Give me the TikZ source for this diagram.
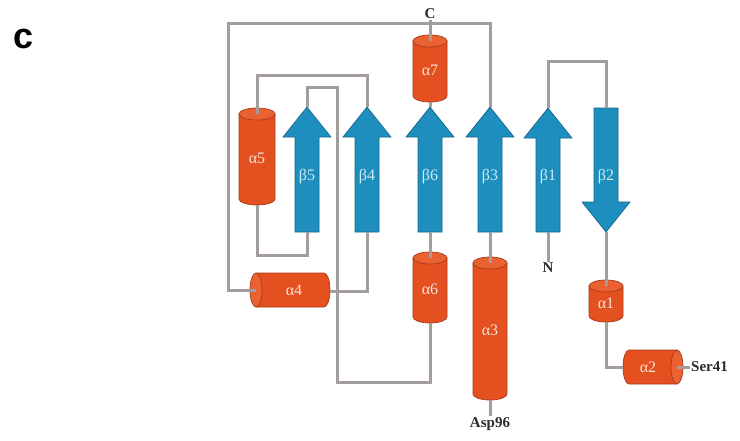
\documentclass[tikz,border=0pt]{standalone}
\usepackage{fontspec}
\setmainfont{Liberation Serif}
\newfontfamily\headfont{Liberation Sans}
\definecolor{orbody}{HTML}{E4501F}
\definecolor{ortop}{HTML}{EA6232}
\definecolor{oredge}{HTML}{A83A18}
\definecolor{blbody}{HTML}{1E8EBE}
\definecolor{bledge}{HTML}{17678A}
\definecolor{lngray}{HTML}{A39E9B}
\definecolor{txtor}{HTML}{FBE3D6}
\definecolor{txtbl}{HTML}{CDEBF5}
\definecolor{txtdk}{HTML}{2E2A28}
\tikzset{
  conn/.style={draw=lngray, line width=3pt},
  cylbody/.style={fill=orbody, draw=oredge, line width=0.7pt},
  cyltop/.style={fill=ortop, draw=oredge, line width=0.7pt},
  strand/.style={fill=blbody, draw=bledge, line width=0.7pt, line join=miter},
  alab/.style={text=txtor, font=\fontsize{16}{16}\selectfont, inner sep=0pt},
  blab/.style={text=txtbl, font=\fontsize{16}{16}\selectfont, inner sep=0pt},
  endlab/.style={text=txtdk, font=\fontsize{15}{15}\selectfont\bfseries, inner sep=1pt},
}
% vertical cylinder: name, cx, ytop(cap centre), ybot(bottom centre), half width, label
\newcommand\vcyl[6]{%
  \path[cylbody] (#2-#5,-#3) -- (#2-#5,-#4)
     arc[start angle=180,end angle=360,x radius=#5pt,y radius=6pt]
     -- (#2+#5,-#3) -- cycle;
  \path[cyltop] (#2,-#3) ellipse[x radius=#5pt,y radius=6pt];
  \coordinate (#1-t) at (#2,-#3);
  \coordinate (#1-b) at (#2,-#4-6);
  \node[alab] (#1) at (#2,{-(#3+#4)/2-2}) {#6};
}
% strand pointing up: name, cx, tip y, bottom y, label
\newcommand\bup[5]{%
  \path[strand] (#2-12,-#4) -- (#2-12,-#3-30) -- (#2-24,-#3-30) -- (#2,-#3)
     -- (#2+24,-#3-30) -- (#2+12,-#3-30) -- (#2+12,-#4) -- cycle;
  \coordinate (#1-t) at (#2,-#3);
  \coordinate (#1-b) at (#2,-#4);
  \node[blab] (#1) at (#2,-177) {#5};
}
% strand pointing down: name, cx, top y, tip y, label
\newcommand\bdown[5]{%
  \path[strand] (#2-12,-#3) -- (#2-12,-#4+30) -- (#2-24,-#4+30) -- (#2,-#4)
     -- (#2+24,-#4+30) -- (#2+12,-#4+30) -- (#2+12,-#3) -- cycle;
  \coordinate (#1-t) at (#2,-#3);
  \coordinate (#1-b) at (#2,-#4);
  \node[blab] (#1) at (#2,-177) {#5};
}
\begin{document}
\begin{tikzpicture}[x=1pt,y=1pt]
\useasboundingbox[fill=white] (0,0) rectangle (740,-440);

\node[font=\headfont\bfseries\fontsize{36}{36}\selectfont, text=black, inner sep=0pt] (panel) at (24,-39) {c};

% helices
\vcyl{a7}{430}{41}{96}{17}{α7}
\vcyl{a5}{257}{114}{199}{18}{α5}
\vcyl{a6}{430}{258}{317}{17}{α6}
\vcyl{a3}{490}{263}{394}{17}{α3}
\vcyl{a1}{606}{286}{316}{17}{α1}

% alpha4 horizontal, cap on left
\path[cylbody] (256,-273) -- (324,-273)
   arc[start angle=90,end angle=-90,x radius=6pt,y radius=17pt]
   -- (256,-307) -- cycle;
\path[cyltop] (256,-290) ellipse[x radius=6pt,y radius=17pt];
\coordinate (a4-l) at (256,-290);
\coordinate (a4-r) at (330,-291);
\node[alab] (a4) at (294,-290) {α4};

% alpha2 horizontal, cap on right
\path[cylbody] (677,-350) -- (629,-350)
   arc[start angle=90,end angle=270,x radius=6pt,y radius=17pt]
   -- (677,-384) -- cycle;
\path[cyltop] (677,-367) ellipse[x radius=6pt,y radius=17pt];
\coordinate (a2-l) at (623,-367);
\coordinate (a2-r) at (677,-367);
\node[alab] (a2) at (648,-367) {α2};

% strands
\bup{b5}{307}{107}{232}{β5}
\bup{b4}{367}{107}{232}{β4}
\bup{b6}{430}{107}{232}{β6}
\bup{b3}{490}{107}{232}{β3}
\bup{b1}{548}{108}{232}{β1}
\bdown{b2}{606}{108}{232}{β2}

% end labels
\node[endlab] (cterm) at (430,-14) {C};
\node[endlab] (nterm) at (548,-268) {N};
\node[endlab, anchor=north] (asp) at (490,-416) {Asp96};
\node[endlab, anchor=west] (ser) at (690,-367) {Ser41};

% connectors
\draw[conn] (cterm.south) -- (a7-t);
\draw[conn] (b6-t) -- (a7-b);
\draw[conn] (b6-b) -- (a6-t);
\draw[conn] (a6-b) -- (430,-382) -- (337,-382) -- (337,-87) -- (307,-87) -- (b5-t);
\draw[conn] (b5-b) -- (307,-255) -- (257,-255) -- (a5-b);
\draw[conn] (a5-t) -- (257,-75) -- (367,-75) -- (b4-t);
\draw[conn] (b4-b) -- (367,-291) -- (a4-r);
\draw[conn] (a4-l) -- (228,-290) -- (228,-23) -- (490,-23) -- (b3-t);
\draw[conn] (b3-b) -- (a3-t);
\draw[conn] (a3-b) -- (asp.north);
\draw[conn] (b1-b) -- (nterm.north);
\draw[conn] (b1-t) -- (548,-61) -- (606,-61) -- (b2-t);
\draw[conn] (b2-b) -- (a1-t);
\draw[conn] (a1-b) -- (606,-367) -- (a2-l);
\draw[conn] (a2-r) -- (ser.west);
\end{tikzpicture}
\end{document}
